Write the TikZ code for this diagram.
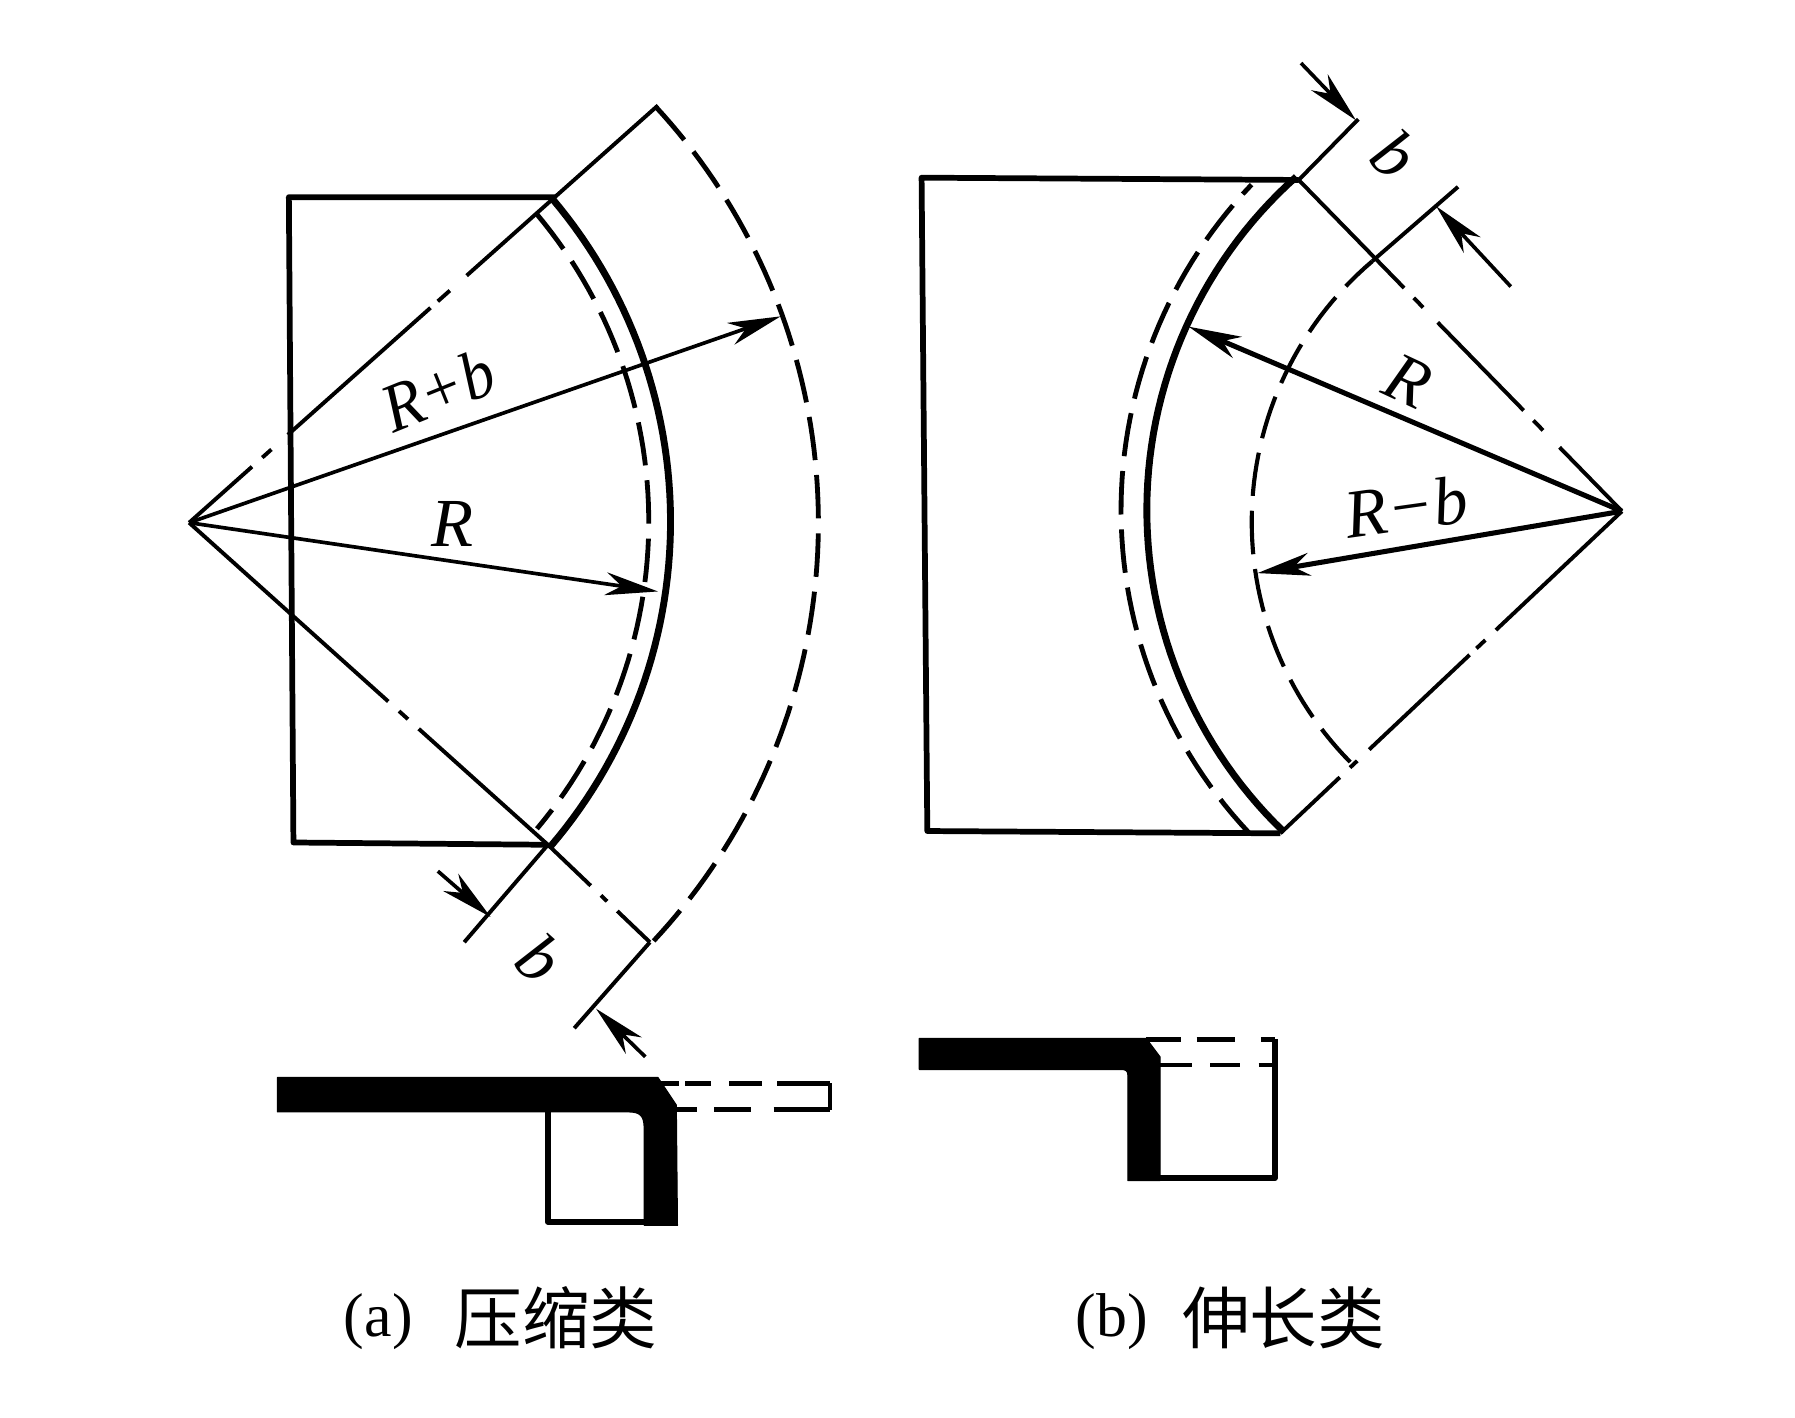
\documentclass[tikz,border=0pt]{standalone}
\usepackage{fontspec}
\usepackage{graphicx}
\setmainfont{Liberation Serif}
\newfontfamily\cjk{Noto Sans CJK SC}
\usetikzlibrary{calc,arrows.meta}
\tikzset{
 thinl/.style={line width=1.7pt},
 boxl/.style={line width=2.5pt,line join=round},
 arcl/.style={line width=3pt},
 dasharc/.style={line width=2.1pt,dash pattern=on 19pt off 6.5pt},
 dimarrow/.style={line width=1.6pt,-{Stealth[length=23pt,width=10pt,inset=7pt]}},
 lab/.style={inner sep=0pt,font=\fontsize{30}{30}\selectfont\itshape},
 captxt/.style={inner sep=0pt,font=\fontsize{27}{27}\selectfont},
 cn/.style={inner sep=0pt,font=\fontsize{29.5}{30}\selectfont\cjk},
 prof/.style={fill=black,draw=black,line width=0.5pt,line join=round},
 pdash/.style={line width=2pt}
}
\begin{document}
\begin{tikzpicture}[x=0.5pt,y=-0.5pt]
\useasboundingbox (0,0) rectangle (1566,1236.3);
% ---------- (a)
\coordinate (O1) at (165,456);
\coordinate (A1) at (484,172);
\coordinate (B1) at (478,737);
\coordinate (A2) at (574,92);
\coordinate (B2) at (567,822);
\draw[boxl] (A1) -- (252,172) -- (256,735) -- (B1);
\draw[arcl,domain=-40.2:40.6,samples=60] plot ({149+436*cos(\x)},{455+436*sin(\x)});
\draw[dasharc,domain=-40:40,samples=60] plot ({149+417*cos(\x)},{455+417*sin(\x)});
\draw[dasharc,domain=-42.7:43,samples=80] plot ({179+535*cos(\x)},{456+535*sin(\x)});
\draw[thinl] (A1) -- (A2);
\draw[thinl] (A1) -- ($(A1)!0.241!(O1)$);
\draw[thinl] ($(A1)!0.287!(O1)$) -- ($(A1)!0.32!(O1)$);
\draw[thinl] ($(A1)!0.34!(O1)$) -- ($(A1)!0.73!(O1)$);
\draw[thinl] ($(A1)!0.775!(O1)$) -- ($(A1)!0.80!(O1)$);
\draw[thinl] ($(A1)!0.828!(O1)$) -- (O1);
\draw[thinl] (O1) -- ($(O1)!0.555!(B1)$);
\draw[thinl] ($(O1)!0.585!(B1)$) -- ($(O1)!0.61!(B1)$);
\draw[thinl] ($(O1)!0.64!(B1)$) -- (B1);
\draw[thinl] (B1) -- ($(B1)!0.42!(B2)$);
\draw[thinl] ($(B1)!0.52!(B2)$) -- ($(B1)!0.58!(B2)$);
\draw[thinl] ($(B1)!0.68!(B2)$) -- (B2);
\coordinate (T1) at (681,276);
\coordinate (T2) at (574,516);
\draw[dimarrow] (O1) -- (T1);
\draw[dimarrow] (O1) -- (T2);
\node[lab,rotate=22] (rpb) at (382,340) {\scalebox{0.94}[1]{R+b}};
\node[lab] (r1) at (395,457) {R};
% dim b (a)
\coordinate (D1) at (405,822);
\coordinate (D2) at (501,897);
\coordinate (E1) at (382,760);
\coordinate (E2) at (428,800);
\coordinate (F1) at (563,922);
\coordinate (F2) at (520,880);
\draw[thinl] (B1) -- (D1);
\draw[thinl] (B2) -- (D2);
\draw[dimarrow] (E1) -- (E2);
\draw[dimarrow] (F1) -- (F2);
\node[lab,rotate=-42] (b1) at (471,836) {b};
% profile (a)
\fill[prof] (242,940) -- (574,940) -- (590,964) -- (591,1069) -- (562,1069) -- (562,984) .. controls (562,973) and (558,970) .. (548,970) -- (242,970) -- cycle;
\draw[boxl] (478,970) -- (478,1066) -- (565,1066);
\foreach \a/\b in {576/592,598/620,636/665,678/724}{\draw[pdash] (\a,945) -- (\b,945);}
\foreach \a/\b in {588/608,623/655,675/724}{\draw[pdash] (\a,968) -- (\b,968);}
\draw[pdash] (724,945) -- (724,968);
\node[captxt,anchor=base] (ca) at (330,1166) {(a)};
\node[cn,anchor=base] (cb) at (485,1172) {压缩类};
% ---------- (b)
\coordinate (O2) at (1415,446);
\coordinate (P1) at (1133,157);
\coordinate (Q1) at (1117,727);
\coordinate (P2) at (1197,228);
\draw[boxl] (P1) -- (804,155) -- (809,725) -- (Q1);
\draw[arcl,domain=134:228.3,samples=60] plot ({1390+389.5*cos(\x)},{445+389.5*sin(\x)});
\draw[dasharc,domain=136.8:223.7,samples=60] plot ({1389+411*cos(\x)},{445+411*sin(\x)});
\draw[dasharc,line width=1.8pt,domain=135.4:229.6,samples=60] plot ({1390.4+298.4*cos(\x)},{455.3+298.4*sin(\x)});
\draw[thinl] (P1) -- ($(P1)!0.326!(O2)$);
\draw[thinl] ($(P1)!0.356!(O2)$) -- ($(P1)!0.385!(O2)$);
\draw[thinl] ($(P1)!0.43!(O2)$) -- ($(P1)!0.696!(O2)$);
\draw[thinl] ($(P1)!0.726!(O2)$) -- ($(P1)!0.756!(O2)$);
\draw[thinl] ($(P1)!0.807!(O2)$) -- (O2);
\draw[thinl] (Q1) -- ($(Q1)!0.174!(O2)$);
\draw[thinl] ($(Q1)!0.204!(O2)$) -- ($(Q1)!0.225!(O2)$);
\draw[thinl] ($(Q1)!0.26!(O2)$) -- ($(Q1)!0.554!(O2)$);
\draw[thinl] ($(Q1)!0.574!(O2)$) -- ($(Q1)!0.60!(O2)$);
\draw[thinl] ($(Q1)!0.631!(O2)$) -- (O2);
\coordinate (U1) at (1185,104);
\coordinate (U2) at (1272,163);
\coordinate (G1) at (1135,55);
\coordinate (G2) at (1183,105);
\coordinate (H1) at (1318,250);
\coordinate (H2) at (1253,180);
\draw[thinl] (P1) -- (U1);
\draw[thinl] (P2) -- (U2);
\draw[dimarrow] (G1) -- (G2);
\draw[dimarrow] (H1) -- (H2);
\coordinate (T3) at (1037,285);
\coordinate (T4) at (1097,500);
\draw[dimarrow,line width=2.2pt] (O2) -- (T3);
\draw[dimarrow,line width=2.2pt] (O2) -- (T4);
\node[lab,rotate=-25] (r2) at (1228,332) {R};
\node[lab,rotate=8] (rmb) at (1227,442) {R−b};
\node[lab,rotate=-42] (b2) at (1217,135) {b};
% profile (b)
\fill[prof] (802,906) -- (1000,906) -- (1012,922) -- (1012,1030) -- (984,1030) -- (984,938) .. controls (984,934) and (982,933) .. (978,933) -- (802,933) -- cycle;
\draw[boxl] (1012,1028) -- (1112,1028) -- (1112,906);
\foreach \a/\b in {1000/1030,1044/1077,1100/1112}{\draw[pdash] (\a,907) -- (\b,907);}
\foreach \a/\b in {1010/1040,1056/1082,1098/1112}{\draw[pdash] (\a,929) -- (\b,929);}
\node[captxt,anchor=base] (cc) at (970,1166) {(b)};
\node[cn,anchor=base] (cd) at (1120,1172) {伸长类};
\end{tikzpicture}
\end{document}
